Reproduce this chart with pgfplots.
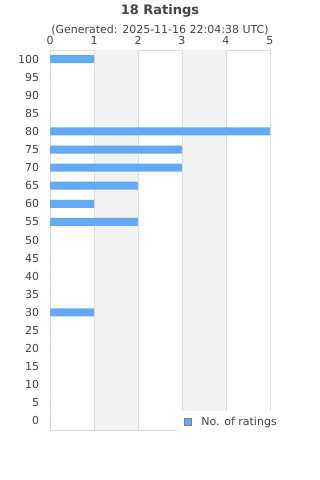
\documentclass[border=0pt]{standalone}
\usepackage{pgfplots}
\pgfplotsset{compat=1.18}
\usepackage{fontspec}
\setmainfont{DejaVu Sans}
\definecolor{barblue}{HTML}{63A9F3}
\definecolor{txt}{HTML}{444444}
\definecolor{gridc}{HTML}{DDDDDD}
\definecolor{band}{HTML}{F2F2F2}
\begin{document}
\begin{tikzpicture}
\path[use as bounding box] (0,0) rectangle (320bp,-480bp);
\node[font=\fontsize{13bp}{15bp}\selectfont\bfseries, text=txt] at (160bp,-11bp) {18 Ratings};
\node[font=\fontsize{11bp}{13bp}\selectfont, text=txt] at (160bp,-30bp) {(Generated: 2025-11-16 22:04:38 UTC)};
\begin{axis}[
  at={(50bp,-50bp)}, anchor=north west,
  scale only axis, width=220bp, height=380bp,
  xbar, bar width=8bp,
  xmin=0, xmax=5,
  ymin=-2.5, ymax=102.5,
  axis x line*=top,
  axis y line*=left,
  axis line style={gridc, line width=0.8bp},
  xtick={0,1,2,3,4,5},
  ytick={0,5,...,100},
  tick style={draw=none},
  ticklabel style={font=\fontsize{11bp}{13bp}\selectfont, text=txt},
  /pgf/number format/assume math mode=true,
  xticklabel shift=2bp,
  yticklabel style={xshift=-3bp},
  legend style={at={(0.58,0.05)}, anchor=north west, draw=none, fill=white,
    font=\fontsize{11bp}{13bp}\selectfont, text=txt, inner xsep=6bp, inner ysep=4bp,
    /tikz/every odd column/.append style={column sep=8bp}},
  legend image code/.code={\draw[fill=barblue, draw=gray, line width=0.6bp] (2bp,-3.5bp) rectangle (9bp,3.5bp);},
  clip=false,
]
\fill[band] (axis cs:1,-2.5) rectangle (axis cs:2,102.5);
\fill[band] (axis cs:3,-2.5) rectangle (axis cs:4,102.5);
\draw[gridc, line width=0.8bp] (axis cs:1,-2.5) -- (axis cs:1,102.5);
\draw[gridc, line width=0.8bp] (axis cs:2,-2.5) -- (axis cs:2,102.5);
\draw[gridc, line width=0.8bp] (axis cs:3,-2.5) -- (axis cs:3,102.5);
\draw[gridc, line width=0.8bp] (axis cs:4,-2.5) -- (axis cs:4,102.5);
\draw[gridc, line width=0.8bp] (axis cs:5,-2.5) -- (axis cs:5,102.5);
\draw[gridc, line width=0.8bp] (axis cs:0,-2.5) -- (axis cs:5,-2.5);
\addplot[fill=barblue, draw=none] coordinates {
(0,0) (0,5) (0,10) (0,15) (0,20) (0,25) (1,30) (0,35) (0,40) (0,45) (0,50)
(2,55) (1,60) (2,65) (3,70) (3,75) (5,80) (0,85) (0,90) (0,95) (1,100)
};
\addlegendentry{No. of ratings}
\end{axis}
\end{tikzpicture}
\end{document}
